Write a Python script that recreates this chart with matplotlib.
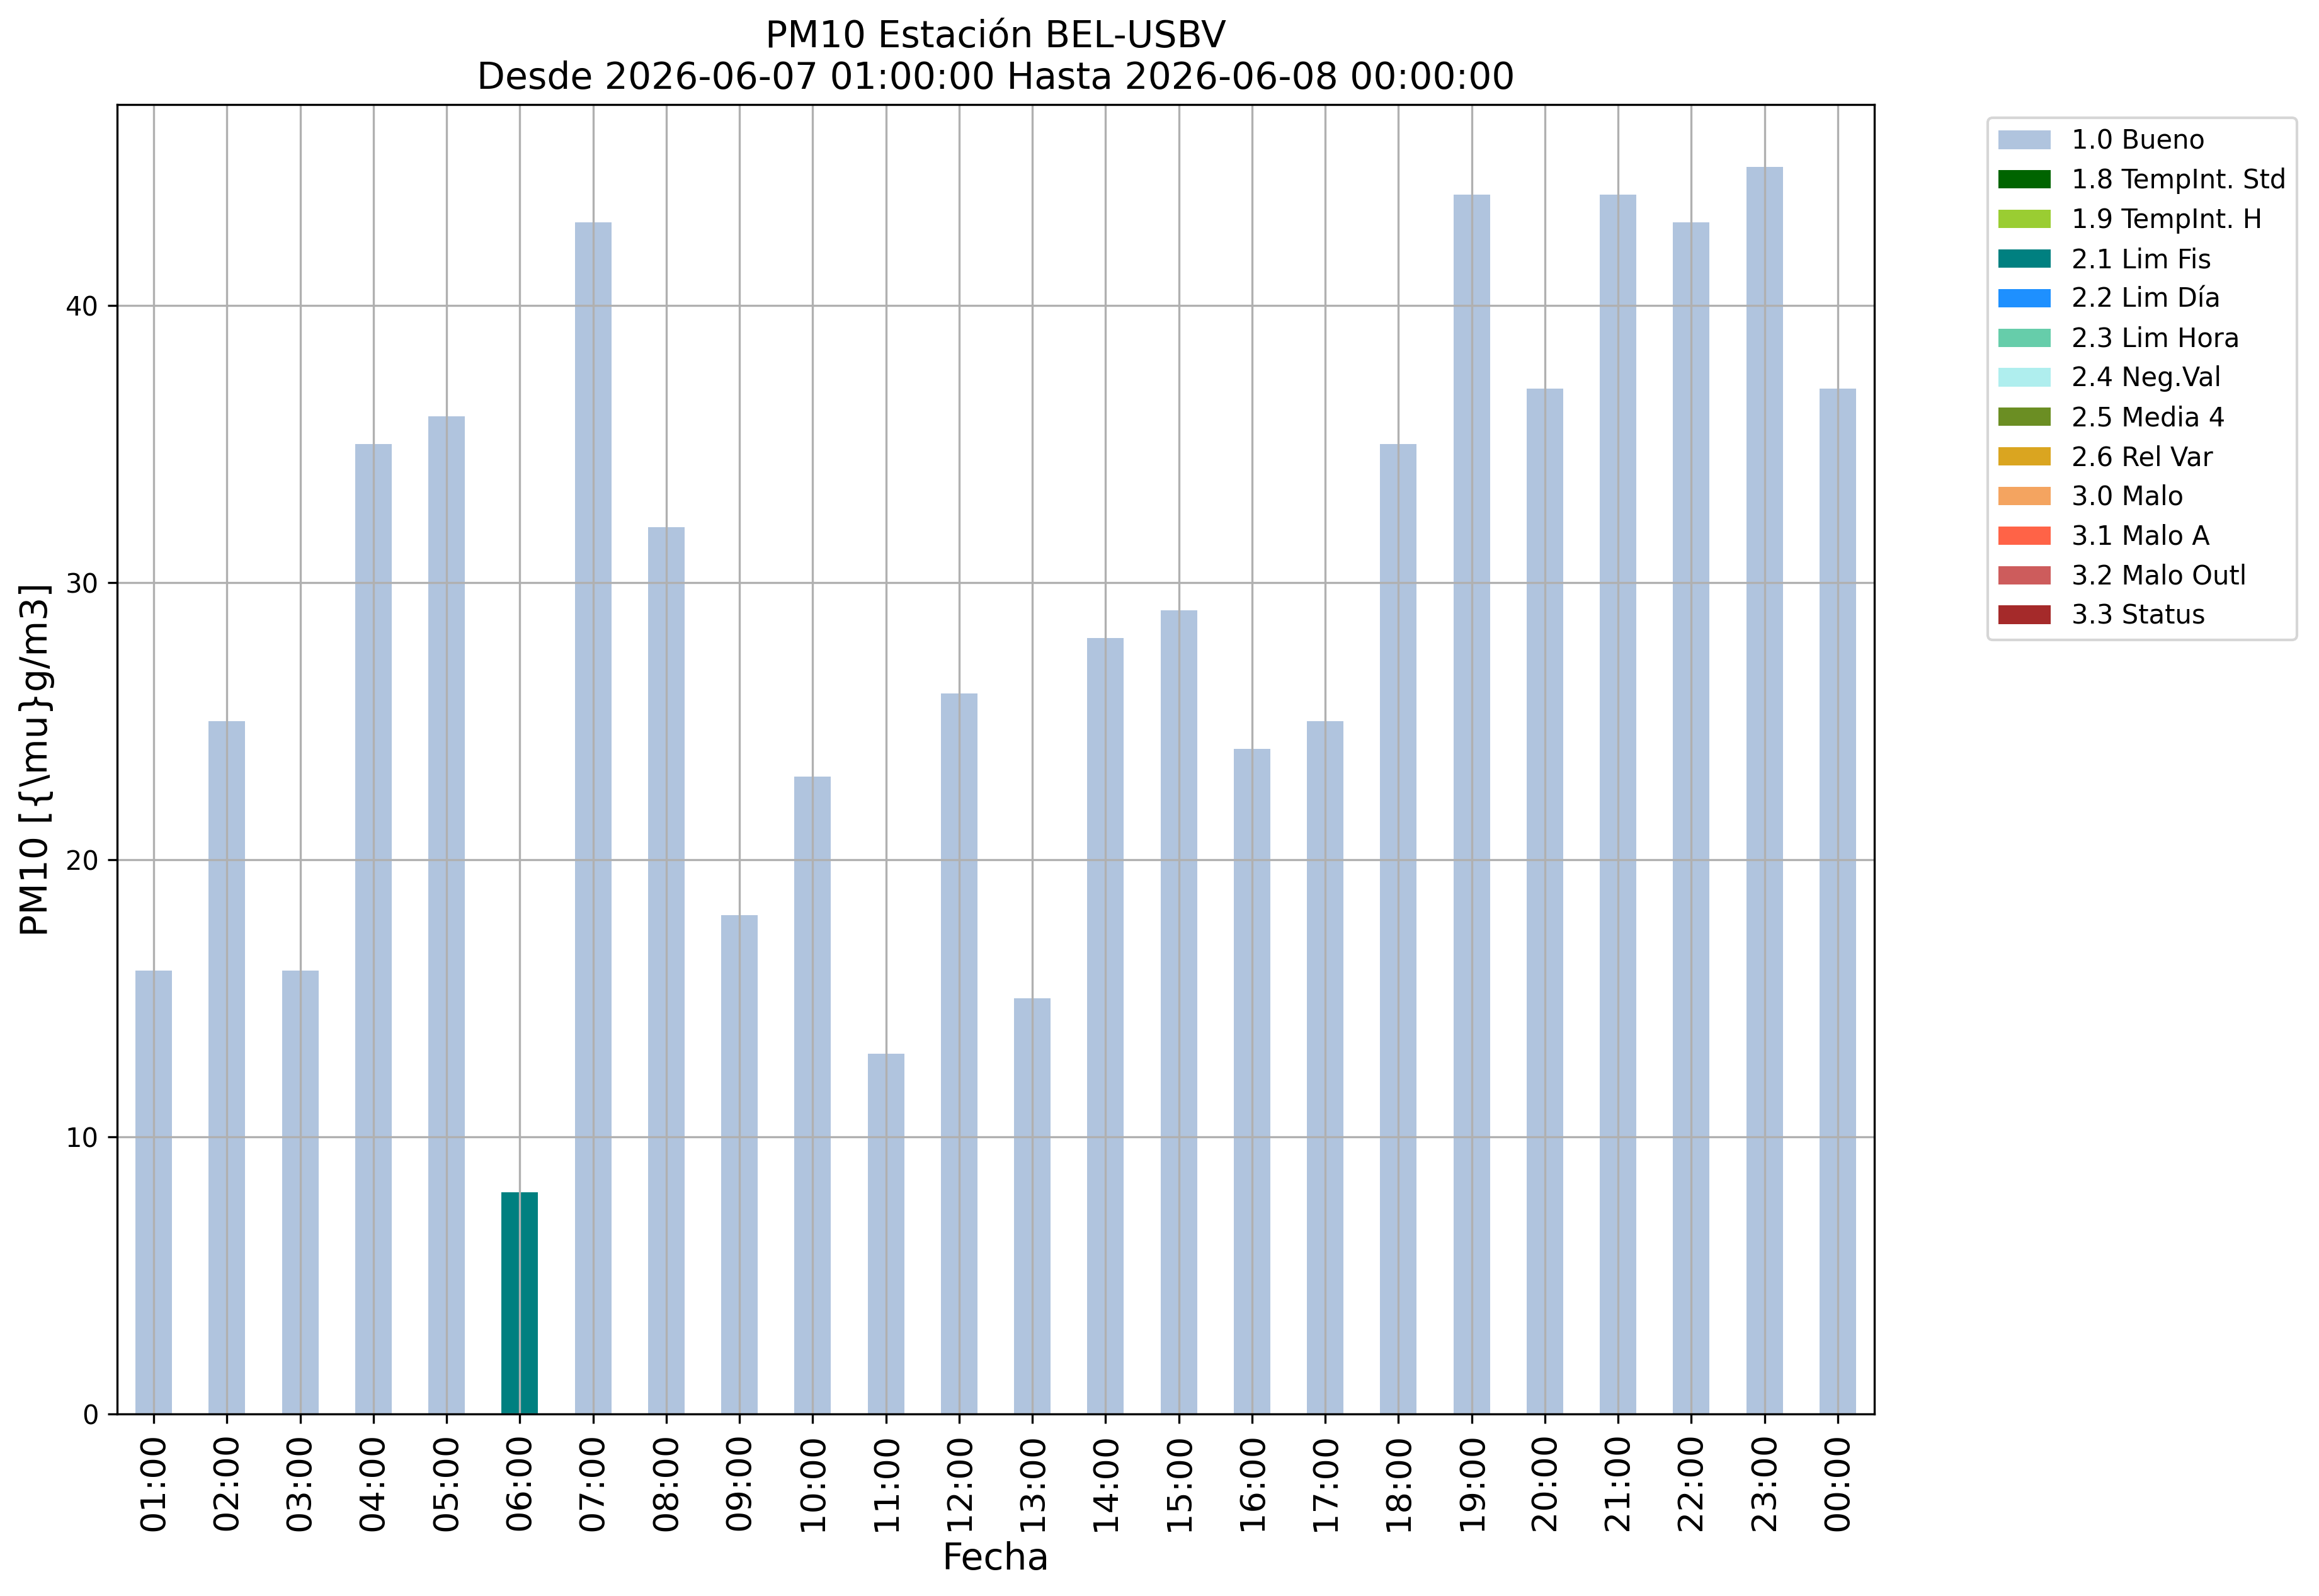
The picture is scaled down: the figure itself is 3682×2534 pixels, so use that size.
import numpy as np
import matplotlib
matplotlib.use("Agg")
import matplotlib.pyplot as plt

horas = ["01:00", "02:00", "03:00", "04:00", "05:00", "06:00", "07:00", "08:00",
         "09:00", "10:00", "11:00", "12:00", "13:00", "14:00", "15:00", "16:00",
         "17:00", "18:00", "19:00", "20:00", "21:00", "22:00", "23:00", "00:00"]
pm10 = [16, 25, 16, 35, 36, 8, 43, 32, 18, 23, 13, 26, 15, 28, 29, 24,
        25, 35, 44, 37, 44, 43, 45, 37]
flags = ["1.0", "1.0", "1.0", "1.0", "1.0", "2.1", "1.0", "1.0", "1.0", "1.0",
         "1.0", "1.0", "1.0", "1.0", "1.0", "1.0", "1.0", "1.0", "1.0", "1.0",
         "1.0", "1.0", "1.0", "1.0"]

codigos = ["1.0", "1.8", "1.9", "2.1", "2.2", "2.3", "2.4", "2.5", "2.6",
           "3.0", "3.1", "3.2", "3.3"]
nombres = ["1.0 Bueno", "1.8 TempInt. Std", "1.9 TempInt. H", "2.1 Lim Fis",
           "2.2 Lim Día", "2.3 Lim Hora", "2.4 Neg.Val", "2.5 Media 4",
           "2.6 Rel Var", "3.0 Malo", "3.1 Malo A", "3.2 Malo Outl", "3.3 Status"]
colores = ["lightsteelblue", "darkgreen", "yellowgreen", "teal", "dodgerblue",
           "mediumaquamarine", "paleturquoise", "olivedrab", "goldenrod",
           "sandybrown", "tomato", "indianred", "brown"]

fig = plt.figure(figsize=(3682 / 300, 2534 / 300), dpi=300)
ax = fig.add_axes([186 / 3682, 1 - 2245 / 2534, 2790 / 3682, 2079 / 2534])

x = np.arange(len(horas))
valores = np.array(pm10, dtype=float)
fl = np.array(flags)
base = np.zeros(len(horas))
for cod, nom, col in zip(codigos, nombres, colores):
    h = np.where(fl == cod, valores, 0.0)
    ax.bar(x, h, width=0.5, bottom=base, color=col, label=nom, linewidth=0)
    base = base + h

ax.set_xlim(-0.5, len(horas) - 0.5)
ax.set_ylim(0, valores.max() * 1.05)
ax.set_xticks(x)
ax.set_xticklabels(horas, rotation=90, fontsize=13)
ax.tick_params(axis="y", labelsize=10)
ax.grid(True)

ax.set_title("PM10 Estación BEL-USBV\nDesde 2026-06-07 01:00:00 Hasta 2026-06-08 00:00:00",
             fontsize=14)
ax.set_xlabel("Fecha", fontsize=14)
ax.set_ylabel(r"PM10 [{\mu}g/m3]", fontsize=14)
ax.legend(bbox_to_anchor=(1.057, 1), loc="upper left", fontsize=10)

fig.savefig("out.png", dpi=300)
